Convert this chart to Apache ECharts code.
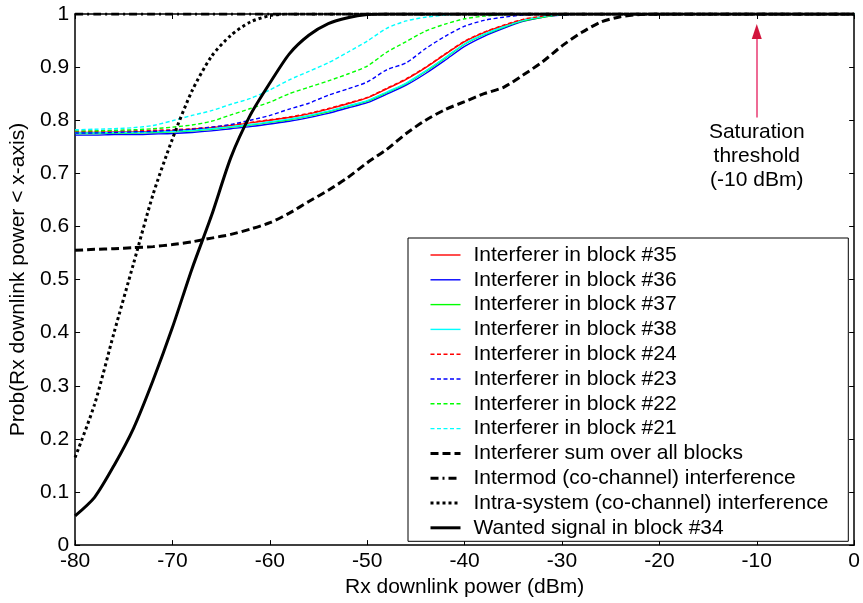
<!DOCTYPE html>
<html>
<head>
<meta charset="utf-8">
<script src="https://cdn.jsdelivr.net/npm/echarts@6/dist/echarts.min.js"></script>
<style>html,body{margin:0;padding:0;background:#fff}#c{width:863px;height:603px}</style>
</head>
<body>
<div id="c"></div>
<script>
// x positions (dBm)
var xs = [-80,-78,-76,-74,-72,-70,-68,-66,-64,-62,-60,-58,-56,-54,-52,-50,-48,-46,-44,-42,-40,-38,-36,-34,-32,-30,-28,-26,-24,-22,-20,0];
var xTicks = [-80,-70,-60,-50,-40,-30,-20,-10,0];
var yTicks = [0,0.1,0.2,0.3,0.4,0.5,0.6,0.7,0.8,0.9,1];

var blk35 = [.777,.777,.778,.778,.779,.780,.783,.786,.790,.795,.800,.805,.812,.821,.831,.842,.859,.877,.899,.924,.948,.965,.978,.989,.995,.999,1,1,1,1,1,1];
var blk36 = [.772,.772,.773,.773,.774,.775,.777,.780,.784,.788,.793,.798,.805,.813,.823,.833,.849,.866,.888,.913,.939,.958,.973,.986,.994,.998,1,1,1,1,1,1];
var blk37 = [.775,.775,.776,.776,.777,.778,.780,.783,.787,.791,.796,.801,.808,.816,.826,.836,.852,.869,.892,.917,.943,.961,.975,.987,.994,.999,1,1,1,1,1,1];
var blk38 = [.776,.776,.777,.777,.778,.779,.781,.784,.788,.792,.797,.802,.809,.817,.827,.837,.853,.870,.893,.918,.944,.962,.976,.988,.995,.999,1,1,1,1,1,1];
var blk24 = [.779,.779,.780,.780,.781,.782,.784,.787,.791,.796,.801,.806,.813,.822,.832,.843,.860,.878,.900,.925,.949,.966,.979,.990,.996,.999,1,1,1,1,1,1];
var blk23 = [.776,.776,.777,.778,.779,.781,.783,.787,.792,.800,.809,.821,.832,.847,.859,.872,.895,.908,.935,.958,.977,.988,.994,.998,1,1,1,1,1,1,1,1];
var blk22 = [.780,.780,.781,.782,.784,.787,.791,.798,.810,.822,.834,.850,.862,.874,.887,.902,.928,.948,.968,.981,.991,.996,.999,1,1,1,1,1,1,1,1,1];
var blk21 = [.782,.783,.784,.786,.790,.799,.809,.818,.830,.841,.857,.876,.892,.908,.928,.949,.973,.987,.994,.998,1,1,1,1,1,1,1,1,1,1,1,1];
var sumAll = [.555,.557,.558,.560,.562,.566,.571,.578,.585,.595,.607,.625,.647,.668,.692,.720,.745,.775,.800,.820,.835,.850,.862,.885,.910,.940,.965,.985,.995,.999,1,1];
var intermod = [1,1,1,1,1,1,1,1,1,1,1,1,1,1,1,1,1,1,1,1,1,1,1,1,1,1,1,1,1,1,1,1];
var intra = [.165,.265,.400,.530,.660,.765,.855,.920,.960,.985,.997,1,1,1,1,1,1,1,1,1,1,1,1,1,1,1,1,1,1,1,1,1];
var wanted = [.055,.090,.150,.220,.310,.410,.520,.620,.730,.810,.870,.925,.960,.982,.993,.999,1,1,1,1,1,1,1,1,1,1,1,1,1,1,1,1];

var names = ['Interferer in block #35','Interferer in block #36','Interferer in block #37','Interferer in block #38',
  'Interferer in block #24','Interferer in block #23','Interferer in block #22','Interferer in block #21',
  'Interferer sum over all blocks','Intermod (co-channel) interference','Intra-system (co-channel) interference','Wanted signal in block #34'];

function pts(a){ return xs.map(function(x,i){ return [x,a[i]]; }); }
var FONT = 'Liberation Sans, Arial, sans-serif';

function mk(name, arr, color, width, type, extra){
  var s = {
    name: name, type: 'line', data: pts(arr), symbol: 'none', smooth: 0.25,
    lineStyle: {color: color, width: width, type: type},
    itemStyle: {color: color}, emphasis: {disabled: true}, animation: false
  };
  if (extra) for (var k in extra) s[k] = extra[k];
  return s;
}

var series = [
  mk(names[0], blk35, '#ff0000', 1.4, 'solid'),
  mk(names[1], blk36, '#0000ff', 1.4, 'solid'),
  mk(names[2], blk37, '#00ff00', 1.4, 'solid'),
  mk(names[3], blk38, '#00ffff', 1.4, 'solid'),
  mk(names[4], blk24, '#ff0000', 1.4, [4,2.5]),
  mk(names[5], blk23, '#0000ff', 1.4, [4,2.5]),
  mk(names[6], blk22, '#00ff00', 1.4, [4,2.5]),
  mk(names[7], blk21, '#00ffff', 1.4, [4,2.5]),
  mk(names[8], sumAll, '#000000', 3, [8,4]),
  mk(names[9], intermod, '#000000', 3, [8,4,2,4], {
    markLine: {silent: true, symbol: ['none','none'], label: {show: false},
      lineStyle: {color: '#e83a72', width: 1.5, type: 'solid', opacity: 1},
      emphasis: {disabled: true},
      data: [[{coord: [-10, 0.805]}, {coord: [-10, 0.955]}]]},
    markPoint: {silent: true, data: [
      {coord: [-10, 0.967], symbol: 'triangle', symbolSize: [10, 15], itemStyle: {color: '#d2143c'}, label: {show: false}},
      {coord: [-10, 0.733], symbol: 'circle', symbolSize: 0, label: {show: true, position: 'inside',
        formatter: 'Saturation\nthreshold\n(-10 dBm)', fontSize: 21, lineHeight: 24, color: '#000', fontFamily: FONT}}
    ]}
  }),
  mk(names[10], intra, '#000000', 3, [3,3]),
  mk(names[11], wanted, '#000000', 3, 'solid')
];

var chart = echarts.init(document.getElementById('c'), null, {renderer: 'canvas'});
var axisCommon = {
  axisLine: {show: true, onZero: false, lineStyle: {color: '#000', width: 1.5}},
  axisTick: {show: true, inside: true, length: 5, lineStyle: {color: '#000', width: 1}},
  splitLine: {show: false}
};
chart.setOption({
  animation: false,
  backgroundColor: '#fff',
  textStyle: {fontFamily: FONT},
  grid: {left: 66, right: 7, top: 14, bottom: 56, containLabel: false},
  legend: {
    data: names, orient: 'vertical', left: 408, top: 238,
    backgroundColor: '#fff', borderColor: '#000', borderWidth: 1,
    padding: [6.5, 20, 3, 21], itemWidth: 30, itemHeight: 14, itemGap: 3.8,
    itemStyle: {opacity: 0},
    lineStyle: {width: 'inherit'},
    textStyle: {fontSize: 21, lineHeight: 21, color: '#000', fontFamily: FONT, padding: [0,0,0,8]},
    selectedMode: false
  },
  xAxis: [
    Object.assign({type: 'value', min: xTicks[0], max: xTicks[xTicks.length-1], interval: 10,
      name: 'Rx downlink power (dBm)', nameLocation: 'middle', nameGap: 27,
      nameTextStyle: {fontSize: 21, color: '#000', fontFamily: FONT},
      axisLabel: {fontSize: 21, color: '#000', margin: 6, fontFamily: FONT}}, axisCommon),
    Object.assign({type: 'value', position: 'top', min: xTicks[0], max: xTicks[xTicks.length-1], interval: 10,
      axisLabel: {show: false}}, axisCommon)
  ],
  yAxis: [
    Object.assign({type: 'value', min: yTicks[0], max: yTicks[yTicks.length-1], interval: 0.1,
      name: 'Prob(Rx downlink power < x-axis)', nameLocation: 'middle', nameGap: 40,
      nameTextStyle: {fontSize: 21, color: '#000', fontFamily: FONT},
      axisLabel: {fontSize: 21, color: '#000', margin: 6, fontFamily: FONT}}, axisCommon),
    Object.assign({type: 'value', position: 'right', min: yTicks[0], max: yTicks[yTicks.length-1], interval: 0.1,
      axisLabel: {show: false}}, axisCommon)
  ],
  series: series
});
</script>
</body>
</html>
